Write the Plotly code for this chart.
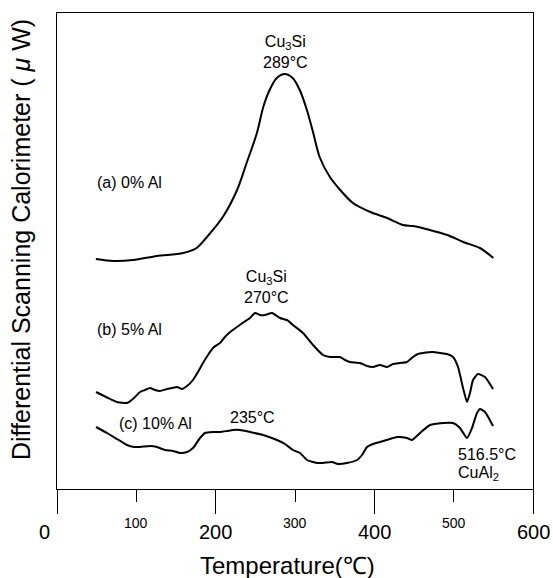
import plotly.graph_objects as go

# ---------------- data ----------------
temp_a = [49, 71, 96, 126, 159, 176, 189, 209, 227, 239, 252, 260, 268, 277, 287, 297,
          306, 315, 323, 331, 344, 357, 373, 395, 416, 436, 449, 470, 492, 512, 533, 550]
dsc_a = [230, 228, 229, 233, 236, 241, 252, 272, 299, 326, 356, 382, 399, 411, 415, 411,
         399, 379, 356, 332, 312, 299, 286, 277, 271, 264, 263, 259, 254, 247, 241, 231]

temp_b = [49.2, 64.3, 75.6, 88.2, 97.1, 104.6, 110.9, 117.2, 123.5, 129.8, 138.7, 145.0,
          151.3, 157.6, 163.9, 171.4, 177.7, 184.0, 190.3, 196.6, 201.7, 205.5, 210.5,
          216.8, 226.9, 235.7, 243.3, 249.6, 255.9, 262.2, 271.0, 281.1, 289.9, 297.5,
          310.1, 322.7, 335.3, 344.1, 356.7, 363.0, 369.3, 381.9, 390.8, 398.3, 407.1,
          416.0, 423.5, 432.4, 441.2, 448.7, 455.0, 461.3, 473.9, 482.8, 491.6, 499.2,
          505.5, 511.8, 516.8, 520.6, 524.4, 530.7, 539.5, 549.6]
dsc_b = [97, 91, 87, 86, 91, 97, 99, 101, 99, 98, 100, 101, 102, 100, 103, 109, 117, 126,
         134, 141, 144, 146, 151, 156, 162, 167, 171, 176, 174, 174, 176, 171, 169, 164,
         156, 144, 134, 132, 132, 129, 127, 126, 123, 122, 124, 122, 125, 126, 127, 132,
         135, 136, 137, 136, 135, 132, 122, 101, 87, 96, 109, 115, 112, 100]

temp_c = [49.2, 63.0, 75.6, 88.2, 97.1, 104.6, 117.2, 126.1, 136.1, 146.2, 155.0, 163.9,
          171.4, 180.3, 186.6, 196.6, 205.5, 214.3, 221.8, 230.7, 243.3, 259.7, 277.3,
          287.4, 297.5, 306.3, 315.1, 327.7, 335.3, 346.6, 354.2, 365.5, 378.2, 384.5,
          390.8, 398.3, 407.1, 419.7, 428.6, 441.2, 447.5, 457.6, 470.2, 486.6, 499.2,
          508.0, 516.8, 523.1, 529.4, 533.2, 539.5, 549.6]
dsc_c = [62, 56, 50, 44, 42, 42, 43, 42, 39, 38, 36, 37, 41, 51, 56, 57, 57, 58, 59, 59,
         57, 54, 49, 45, 39, 36, 29, 26, 26, 27, 25, 26, 29, 34, 42, 45, 47, 50, 52, 51,
         49, 56, 64, 66, 66, 61, 51, 61, 76, 80, 77, 63]

major_ticks = [0, 200, 400, 600]
major_labels = ["0", "200", "400", "600"]
minor_ticks = [100, 300, 500]
minor_labels = ["100", "300", "500"]

FONT = "Liberation Sans, Arial, sans-serif"

fig = go.Figure()
fig.add_trace(go.Scatter(x=temp_a, y=dsc_a, mode="lines",
                         line=dict(color="black", width=2, shape="spline", smoothing=0.8)))
fig.add_trace(go.Scatter(x=temp_b, y=dsc_b, mode="lines",
                         line=dict(color="black", width=2, shape="spline", smoothing=0.5)))
fig.add_trace(go.Scatter(x=temp_c, y=dsc_c, mode="lines",
                         line=dict(color="black", width=2, shape="spline", smoothing=0.5)))

ann = []
# curve annotations
txt = dict(family=FONT, size=16, color="black")
ann.append(dict(x=287.4, y=437, text="Cu<sub>3</sub>Si<br>289°C", showarrow=False, font=txt,
                xanchor="center", yanchor="middle"))
ann.append(dict(x=263.5, y=202, text="Cu<sub>3</sub>Si<br>270°C", showarrow=False, font=txt,
                xanchor="center", yanchor="middle"))
ann.append(dict(x=47.9, y=307, text="(a) 0% Al", showarrow=False, font=txt,
                xanchor="left", yanchor="middle"))
ann.append(dict(x=47.9, y=160, text="(b) 5% Al", showarrow=False, font=txt,
                xanchor="left", yanchor="middle"))
ann.append(dict(x=75.6, y=66, text="(c) 10% Al", showarrow=False, font=txt,
                xanchor="left", yanchor="middle"))
ann.append(dict(x=245.8, y=72, text="235°C", showarrow=False, font=txt,
                xanchor="center", yanchor="middle"))
ann.append(dict(x=503, y=35, text="516.5°C", showarrow=False, font=txt,
                xanchor="left", yanchor="middle"))
ann.append(dict(x=503, y=16, text="CuAl<sub>2</sub>", showarrow=False, font=txt,
                xanchor="left", yanchor="middle"))

# tick labels (two sizes, as in the original)
for v, lab in zip(major_ticks, major_labels):
    ann.append(dict(x=v, xref="x", y=0, yref="paper", text=lab, showarrow=False,
                    font=dict(family=FONT, size=20, color="black"),
                    xanchor="center", yanchor="middle", yshift=-43,
                    xshift=-13 if v == 0 else 0))
for v, lab in zip(minor_ticks, minor_labels):
    ann.append(dict(x=v, xref="x", y=0, yref="paper", text=lab, showarrow=False,
                    font=dict(family=FONT, size=14, color="black"),
                    xanchor="center", yanchor="middle", yshift=-34))

# y-axis title
ann.append(dict(x=0, xref="paper", y=0.523, yref="paper", xshift=-36,
                text="Differential Scanning Calorimeter ( <i>μ</i> W)", textangle=-90,
                showarrow=False, font=dict(family=FONT, size=25, color="black"),
                xanchor="center", yanchor="middle"))
# x-axis title
ann.append(dict(x=0.5, xref="paper", y=0, yref="paper", yshift=-76, xshift=-8,
                text="Temperature(℃)", showarrow=False,
                font=dict(family=FONT, size=24, color="black"),
                xanchor="center", yanchor="middle"))

fig.update_layout(
    width=553, height=578,
    margin=dict(l=57, r=20, t=13, b=89),
    paper_bgcolor="white", plot_bgcolor="white",
    showlegend=False,
    annotations=ann,
    xaxis=dict(range=[0, 600], tickvals=major_ticks, showticklabels=False,
               ticks="outside", ticklen=24, tickcolor="black", tickwidth=1,
               minor=dict(tickvals=minor_ticks, ticks="outside", ticklen=12,
                          tickcolor="black", tickwidth=1),
               showline=True, linecolor="black", linewidth=1, mirror=True,
               showgrid=False, zeroline=False, fixedrange=True),
    yaxis=dict(range=[0, 476], showticklabels=False, ticks="",
               showline=True, linecolor="black", linewidth=1, mirror=True,
               showgrid=False, zeroline=False, fixedrange=True),
)

fig.write_html("out.html")
